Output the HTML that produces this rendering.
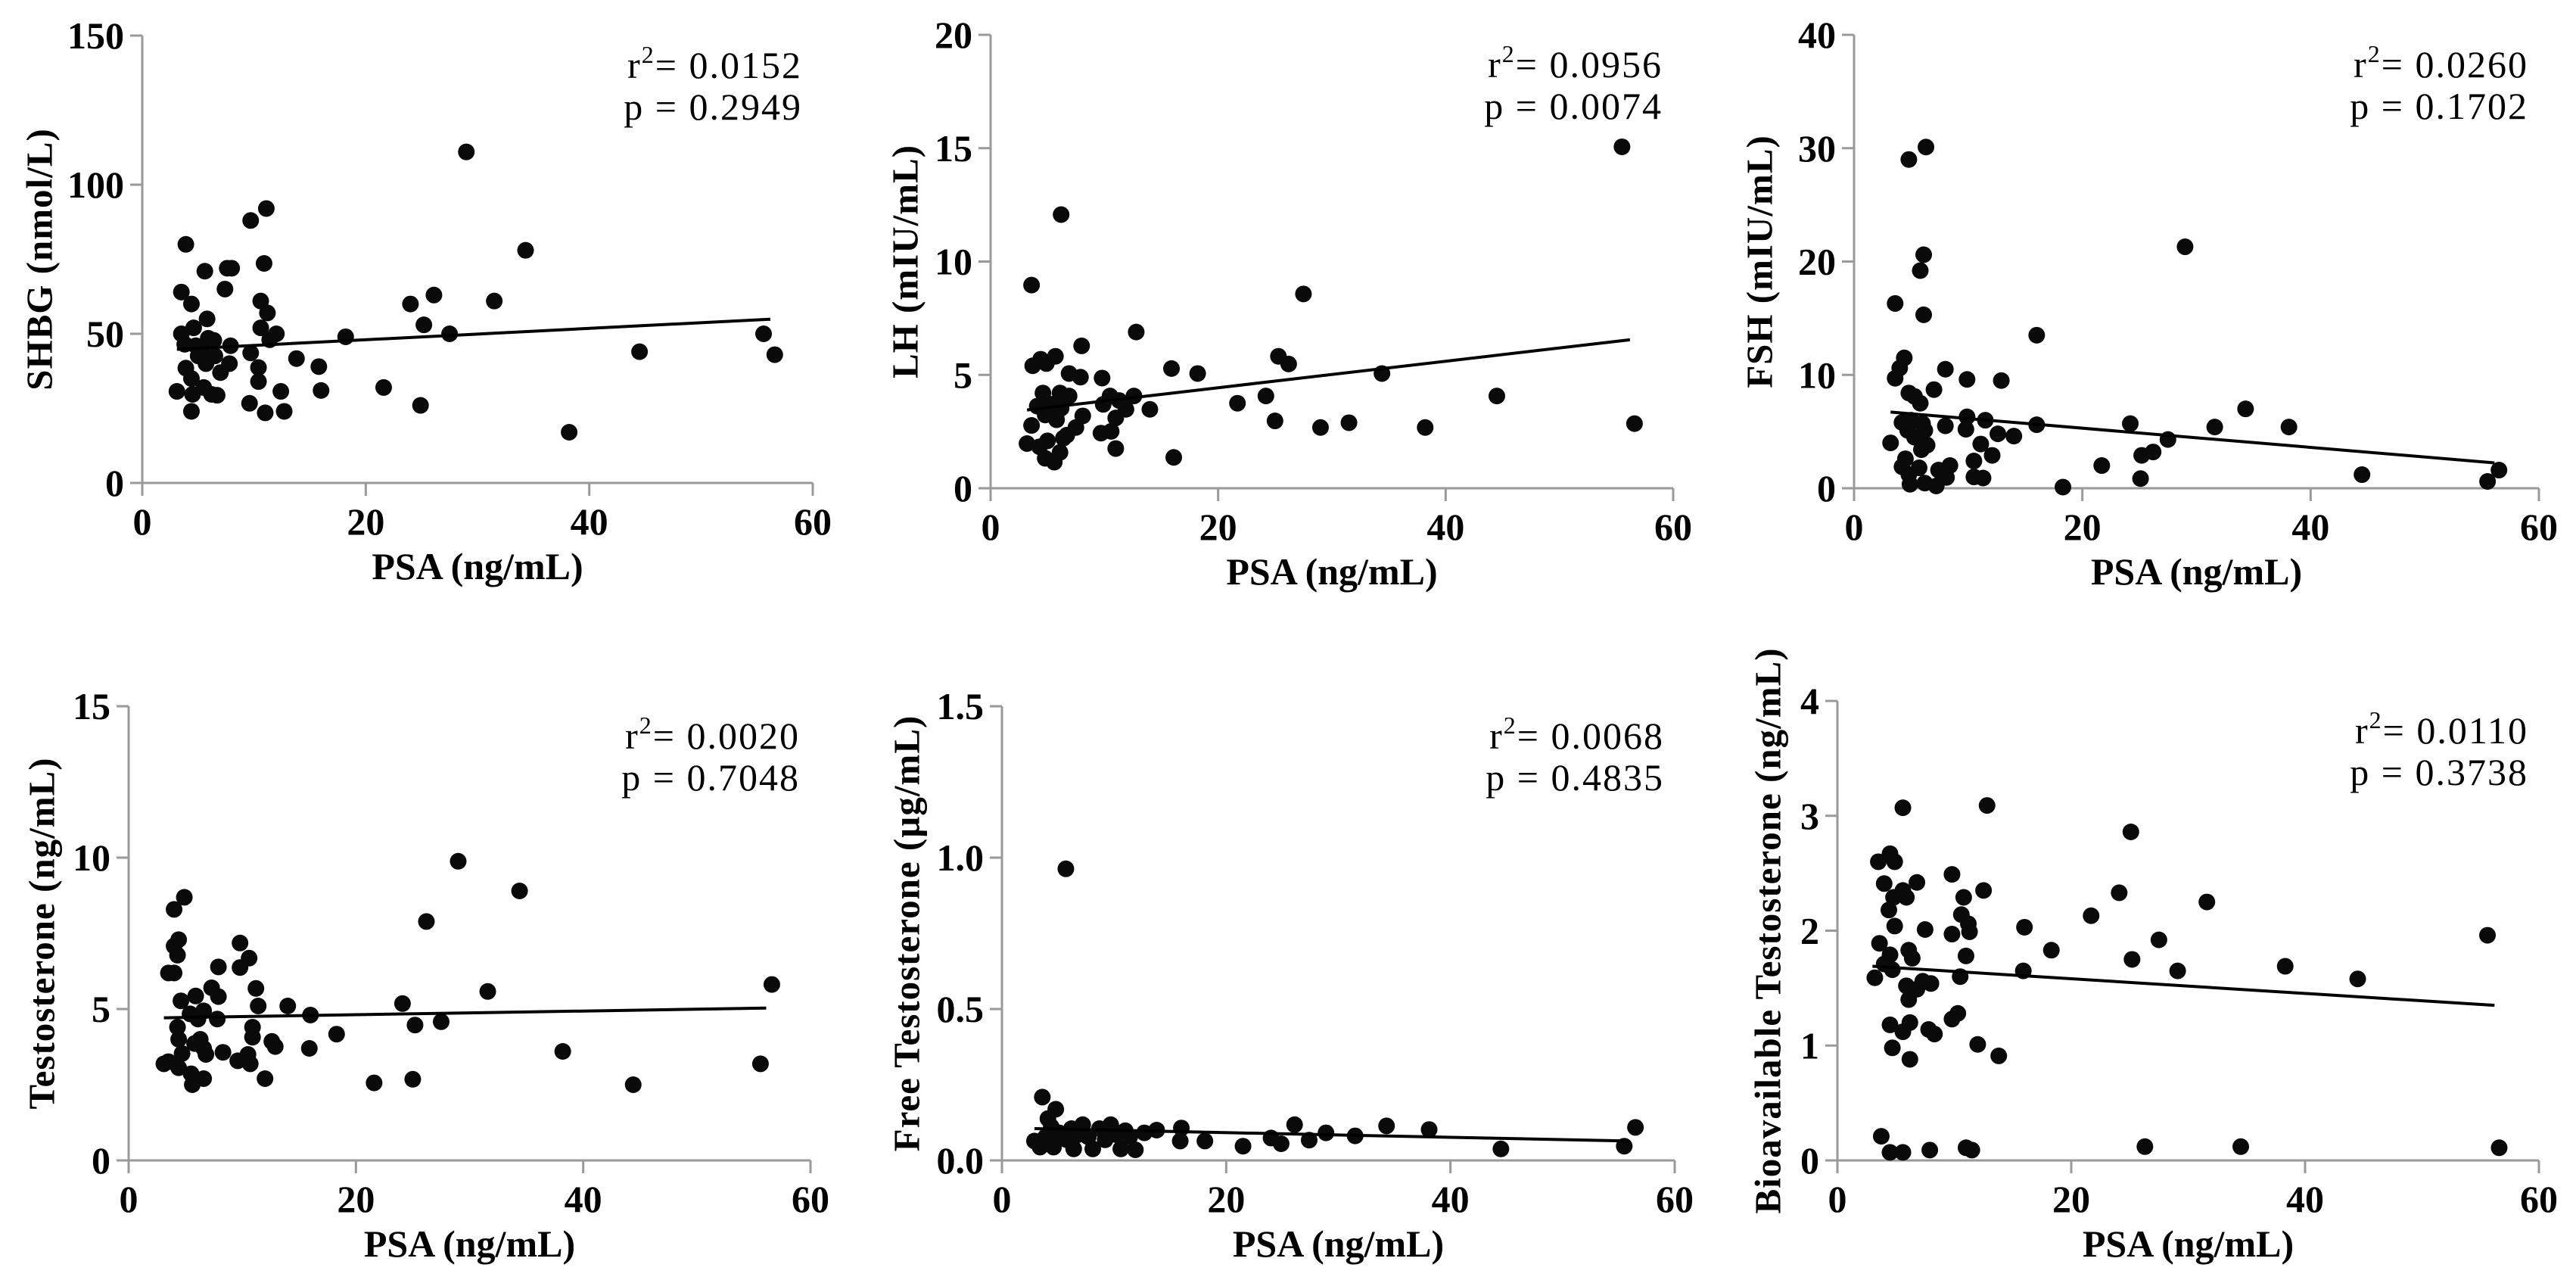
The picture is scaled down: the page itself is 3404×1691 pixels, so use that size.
<!DOCTYPE html>
<html><head><meta charset="utf-8"><style>
html,body{margin:0;padding:0;background:#fff;}
svg{display:block;}
</style></head><body>
<svg id="fig" width="3404" height="1691" viewBox="0 0 3404 1691" xmlns="http://www.w3.org/2000/svg"></svg>
<script>
// ---------- data ----------
const xTickVals=[0,20,40,60];
const xTickLabels=["0","20","40","60"];

const psa1=[29.0,11.1,9.7,3.9,34.3,10.9,5.6,8.0,7.6,7.4,3.5,10.6,4.4,31.5,24.0,26.1,5.8,11.2,25.2,10.6,4.6,12.0,3.5,27.5,18.2,5.9,11.4,55.6,7.9,4.8,5.3,9.7,44.5,56.6,13.8,6.5,7.8,3.9,10.4,15.8,5.7,7.0,4.4,10.4,3.1,4.5,5.5,6.7,12.4,16.0,21.6,9.6,24.9,4.4,11.0,12.7,38.2,5.0,6.2,3.8,6.4];
const shbg=[111,92,88,80,78,73.6,71,72,72,65,64,61,60,61,60,63,55,57,53,52,52,50,50,50,49,48.5,48,50,46,46,44.5,43.6,44,43,41.7,42.6,40,38.5,38.7,39,40,37,35,34,30.7,29.7,32,29.4,30.7,31,32,26.7,26,24,23.5,24,17,42.6,29.7,46.5,47.8];
const shbgTicks=[0,50,100,150];
const shbgTickLabels=["0","50","100","150"];
const shbgFitX=[3.1,56.2], shbgFitY=[44.8,54.9];

const psa2=[55.5,6.2,3.6,27.5,12.8,8.0,5.7,4.4,3.7,4.9,25.3,26.2,15.9,18.2,34.4,6.9,7.9,9.8,4.6,6.1,6.9,12.6,24.2,44.5,10.5,11.3,9.9,21.7,4.1,5.3,6.2,14.0,11.9,8.1,4.8,5.8,11.0,25.0,31.5,56.6,29.0,38.2,3.6,7.5,6.7,9.7,10.6,3.2,5.0,6.4,4.3,11.0,6.1,4.8,5.6,16.1];
const lh=[15.06,12.07,8.96,8.57,6.89,6.28,5.82,5.69,5.4,5.5,5.82,5.48,5.28,5.06,5.06,5.06,4.9,4.86,4.2,4.2,4.07,4.07,4.07,4.07,4.07,3.87,3.7,3.75,3.62,3.7,3.53,3.48,3.48,3.19,3.23,3.02,3.1,2.97,2.89,2.85,2.68,2.68,2.77,2.68,2.34,2.43,2.51,1.97,2.09,2.21,1.83,1.75,1.58,1.32,1.15,1.36];
const lhTicks=[0,5,10,15,20];
const lhTickLabels=["0","5","10","15","20"];
const lhFitX=[3.2,56.2], lhFitY=[3.45,6.55];

const psa3=[6.3,4.8,29.0,6.1,5.8,3.6,6.1,16.0,4.4,4.0,3.6,8.0,9.9,12.9,7.0,4.8,5.3,5.8,34.3,9.9,11.5,4.2,5.0,6.0,16.0,24.2,31.6,38.1,8.0,4.7,6.2,9.8,12.6,14.0,5.3,27.5,3.2,6.4,11.1,5.9,26.2,25.2,12.1,4.5,10.5,21.7,8.4,4.2,5.7,7.4,56.5,44.5,4.8,10.5,11.3,25.1,8.1,6.2,4.9,55.5,7.2,18.3];
const fsh=[30.1,29.0,21.3,20.6,19.2,16.3,15.3,13.5,11.5,10.6,9.7,10.5,9.6,9.5,8.7,8.4,8.1,7.5,7.0,6.3,6.0,5.8,6.0,5.7,5.6,5.7,5.4,5.4,5.5,5.1,5.1,5.2,4.8,4.6,4.5,4.3,4.0,3.8,3.9,3.4,3.2,2.9,2.9,2.6,2.4,2.0,2.0,1.9,1.8,1.6,1.6,1.2,1.2,1.0,0.9,0.85,0.95,0.45,0.35,0.6,0.2,0.1];
const fshTicks=[0,10,20,30,40];
const fshTickLabels=["0","10","20","30","40"];
const fshFitX=[3.2,56.1], fshFitY=[6.72,2.24];

const psa4=[29.0,34.4,4.9,4.0,26.2,4.4,4.0,9.8,4.3,10.6,7.9,9.8,3.5,4.0,7.3,11.2,56.6,31.6,5.9,7.9,4.6,24.1,14.0,11.4,5.4,16.0,6.6,6.1,7.8,27.5,25.2,4.3,10.9,18.3,4.4,6.3,10.9,12.6,5.8,12.9,6.6,15.9,38.2,4.7,8.3,6.8,10.5,9.6,10.7,3.1,3.5,55.6,4.4,5.5,6.6,12.0,25.0,21.6,5.6,44.4];
const testo=[9.88,8.9,8.69,8.29,7.89,7.29,7.08,7.18,6.78,6.68,6.39,6.37,6.19,6.19,5.70,5.68,5.81,5.58,5.43,5.41,5.27,5.18,5.1,5.1,4.84,4.8,4.94,4.67,4.67,4.58,4.47,4.4,4.4,4.17,4.0,4.0,4.07,3.93,3.86,3.76,3.70,3.70,3.6,3.53,3.57,3.5,3.5,3.29,3.19,3.19,3.26,3.19,3.06,2.86,2.70,2.70,2.68,2.56,2.50,2.50];
const testoTicks=[0,5,10,15];
const testoTickLabels=["0","5","10","15"];
const testoFitX=[3.1,56.1], testoFitY=[4.71,5.03];

const psa5=[5.7,3.6,4.8,56.5,34.3,26.1,38.1,4.1,7.2,9.7,16.0,13.8,28.9,12.7,31.5,11.0,6.2,24.0,18.1,27.4,15.9,2.9,3.9,5.1,5.8,6.8,7.7,9.2,10.2,11.4,24.9,21.5,55.5,44.5,3.4,4.6,6.4,8.1,10.6,11.9,8.7,4.4];
const freeT=[0.963,0.209,0.169,0.109,0.114,0.118,0.102,0.138,0.118,0.118,0.107,0.10,0.091,0.091,0.081,0.098,0.105,0.074,0.064,0.067,0.064,0.064,0.078,0.091,0.068,0.085,0.078,0.068,0.085,0.078,0.055,0.047,0.047,0.038,0.044,0.044,0.038,0.038,0.038,0.035,0.105,0.111];
const freeTicks=[0,0.5,1.0,1.5];
const freeTickLabels=["0.0","0.5","1.0","1.5"];
const freeFitX=[2.9,55.9], freeFitY=[0.105,0.064];

const psa6=[12.8,5.6,25.1,4.5,3.5,4.9,9.8,6.8,4.0,5.6,12.5,24.1,4.8,5.9,10.8,31.6,4.4,10.6,21.7,11.2,4.9,16.0,7.5,9.8,11.3,55.6,27.5,3.6,6.1,18.3,4.5,11.0,6.4,25.2,4.0,38.3,4.7,15.9,29.1,3.2,44.5,10.5,7.3,8.0,5.9,6.8,6.1,10.3,9.8,6.2,4.5,5.6,7.8,8.3,12.0,4.7,13.8,6.2,3.75,4.5,5.6,7.9,11.0,11.5,26.3,34.5,56.6];
const bioT=[3.09,3.07,2.86,2.67,2.60,2.60,2.49,2.42,2.41,2.35,2.35,2.33,2.29,2.29,2.29,2.25,2.18,2.14,2.13,2.06,2.04,2.03,2.01,1.97,1.99,1.96,1.92,1.89,1.83,1.83,1.79,1.78,1.76,1.75,1.71,1.69,1.66,1.65,1.65,1.59,1.58,1.60,1.56,1.54,1.52,1.49,1.40,1.28,1.23,1.20,1.18,1.12,1.14,1.10,1.01,0.98,0.91,0.88,0.21,0.07,0.07,0.09,0.11,0.09,0.12,0.12,0.11];
const bioTicks=[0,1,2,3,4];
const bioTickLabels=["0","1","2","3","4"];
const bioFitX=[3.0,56.2], bioFitY=[1.69,1.35];

// ---------- layout ----------
const panels=[
 {name:'shbg',x0:188,x1:1074,y0:638,y1:47,ymax:150,xs:psa1,ys:shbg,yt:shbgTicks,ytl:shbgTickLabels,fx:shbgFitX,fy:shbgFitY,title:'SHBG (nmol/L)',tx:52,r2:'0.0152',p:'0.2949'},
 {name:'lh',x0:1309,x1:2211,y0:645,y1:46,ymax:20,xs:psa2,ys:lh,yt:lhTicks,ytl:lhTickLabels,fx:lhFitX,fy:lhFitY,title:'LH (mIU/mL)',tx:1196,r2:'0.0956',p:'0.0074'},
 {name:'fsh',x0:2450,x1:3355,y0:645,y1:46,ymax:40,xs:psa3,ys:fsh,yt:fshTicks,ytl:fshTickLabels,fx:fshFitX,fy:fshFitY,title:'FSH (mIU/mL)',tx:2325,r2:'0.0260',p:'0.1702'},
 {name:'testosterone',x0:170,x1:1071,y0:1533,y1:933,ymax:15,xs:psa4,ys:testo,yt:testoTicks,ytl:testoTickLabels,fx:testoFitX,fy:testoFitY,title:'Testosterone (ng/mL)',tx:55,r2:'0.0020',p:'0.7048'},
 {name:'free-testosterone',x0:1324,x1:2213,y0:1533,y1:933,ymax:1.5,xs:psa5,ys:freeT,yt:freeTicks,ytl:freeTickLabels,fx:freeFitX,fy:freeFitY,title:'Free Testosterone (\u00b5g/mL)',tx:1198,r2:'0.0068',p:'0.4835'},
 {name:'bioavailable-testosterone',x0:2428,x1:3355,y0:1533,y1:926,ymax:4,xs:psa6,ys:bioT,yt:bioTicks,ytl:bioTickLabels,fx:bioFitX,fy:bioFitY,title:'Bioavailable Testosterone (ng/mL)',tx:2336,r2:'0.0110',p:'0.3738'}
];

const NS='http://www.w3.org/2000/svg';
const svg=document.getElementById('fig');
function mk(tag,attrs,parent){const e=document.createElementNS(NS,tag);for(const k in attrs)e.setAttribute(k,attrs[k]);parent.appendChild(e);return e;}
const AX='#9a9a9a';
const SERIF='"Liberation Serif", "Times New Roman", serif';

panels.forEach(P=>{
  const g=mk('g',{},svg);
  
  
  const sx=v=>P.x0+(v/60)*(P.x1-P.x0);
  const sy=v=>P.y0-(v/P.ymax)*(P.y0-P.y1);
  const ya=mk('line',{x1:P.x0,y1:P.y1,x2:P.x0,y2:P.y0+17,stroke:AX,'stroke-width':3},g);
  
  
  const xa=mk('line',{x1:P.x0-16,y1:P.y0,x2:P.x1,y2:P.y0,stroke:AX,'stroke-width':3},g);
  
  
  P.yt.forEach((v,i)=>{
    mk('line',{x1:P.x0-16,y1:sy(v),x2:P.x0,y2:sy(v),stroke:AX,'stroke-width':3},g);
    const t=mk('text',{x:P.x0-24,y:sy(v)+17,'text-anchor':'end','font-family':SERIF,'font-weight':'bold','font-size':50,fill:'#000'},g);
    t.textContent=P.ytl[i];
    
    
  });
  xTickVals.forEach((v,i)=>{
    mk('line',{x1:sx(v),y1:P.y0,x2:sx(v),y2:P.y0+17,stroke:AX,'stroke-width':3},g);
    const t=mk('text',{x:sx(v),y:P.y0+68,'text-anchor':'middle','font-family':SERIF,'font-weight':'bold','font-size':50,fill:'#000'},g);
    t.textContent=xTickLabels[i];
    
    
  });
  const xt=mk('text',{x:(P.x0+P.x1)/2,y:P.y0+127,'text-anchor':'middle','font-family':SERIF,'font-weight':'bold','font-size':50,fill:'#000'},g);
  xt.textContent='PSA (ng/mL)';
  
  
  const cy=(P.y0+P.y1)/2;
  const yt=mk('text',{x:P.tx,y:cy,'text-anchor':'middle','dominant-baseline':'central','font-family':SERIF,'font-weight':'bold','font-size':49,'letter-spacing':1,fill:'#000',transform:`rotate(-90 ${P.tx} ${cy})`},g);
  yt.textContent=P.title;
  
  
  const ax=P.x1-14;
  const a1=mk('text',{x:ax,y:P.y1+56,'text-anchor':'end','font-family':SERIF,'font-size':50,'letter-spacing':2,fill:'#000'},g);
  a1.innerHTML='r<tspan dy="-20" font-size="32">2</tspan><tspan dy="20">= '+P.r2+'</tspan>';
  
  
  const a2=mk('text',{x:ax,y:P.y1+111,'text-anchor':'end','font-family':SERIF,'font-size':50,'letter-spacing':2,fill:'#000'},g);
  a2.textContent='p = '+P.p;
  
  
  P.xs.forEach((x,i)=>{
    const c=mk('circle',{cx:sx(x),cy:sy(P.ys[i]),r:11,fill:'#0a0a0a'},g);
    
    
  });
  const fl=mk('line',{x1:sx(P.fx[0]),y1:sy(P.fy[0]),x2:sx(P.fx[1]),y2:sy(P.fy[1]),stroke:'#000','stroke-width':4},g);
  
  
});
</script>
</body></html>
